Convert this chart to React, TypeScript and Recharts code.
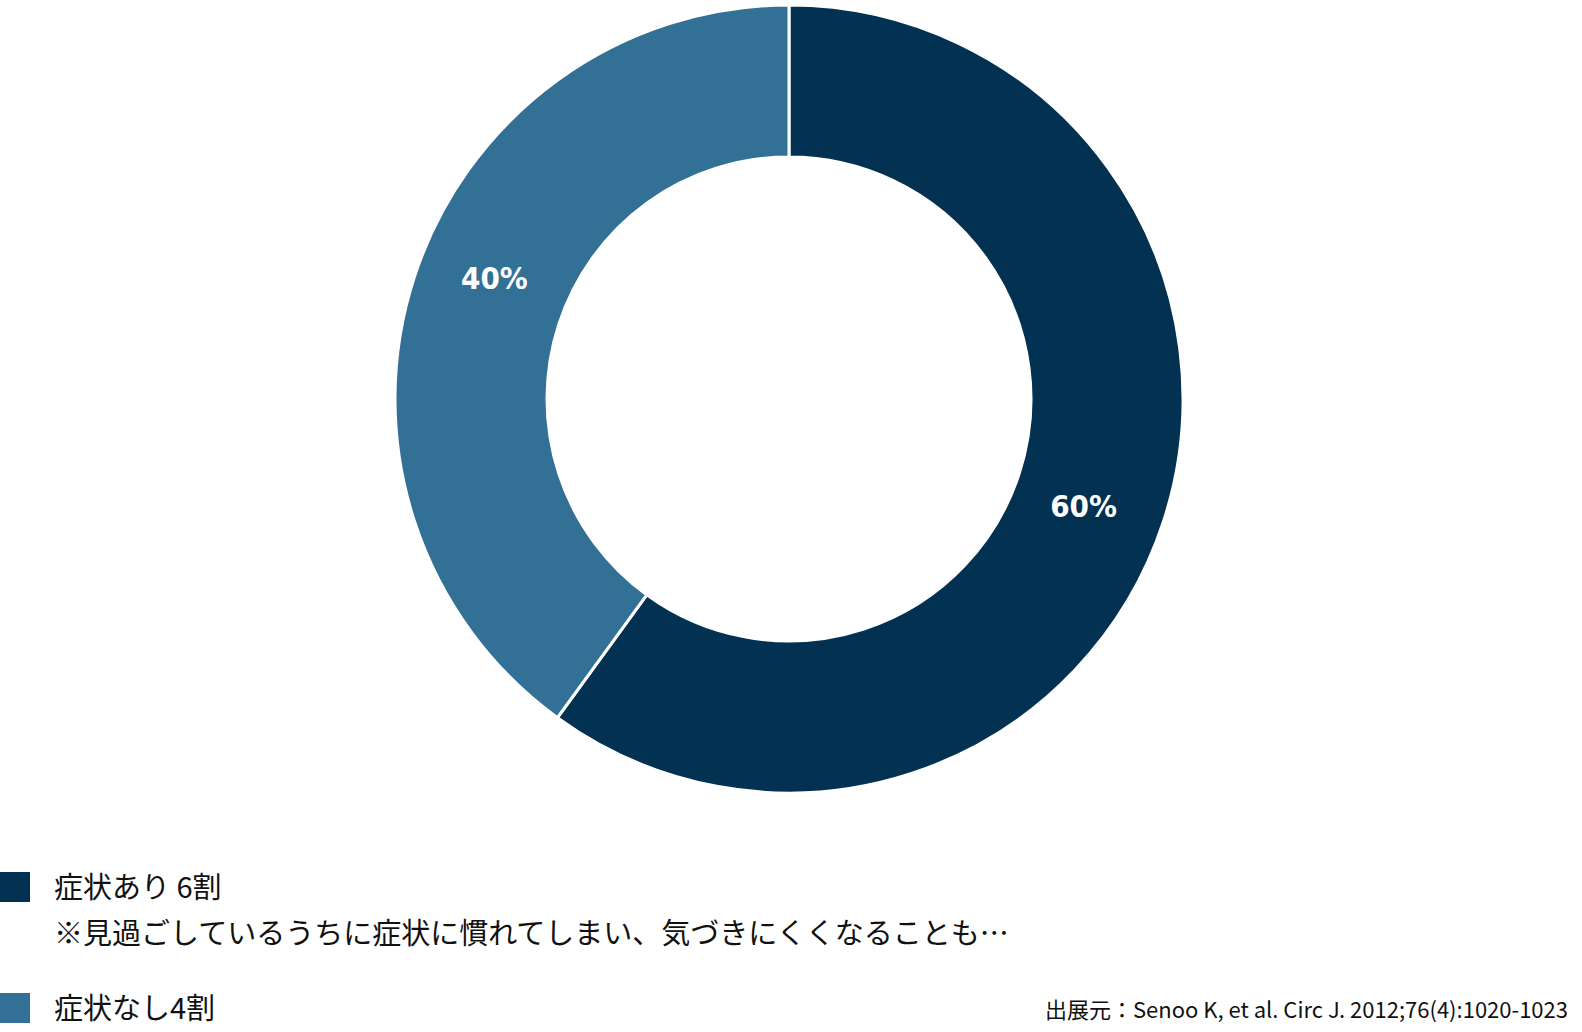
import React from "react";
import { PieChart, Pie, Cell } from "recharts";

const categories = ["症状あり", "症状なし"];
const shares = [60, 40];
const legendLabels = ["症状あり 6割", "症状なし4割"];
const legendNote = "※見過ごしているうちに症状に慣れてしまい、気づきにくくなることも…";
const sourceText = "出展元：Senoo K, et al. Circ J. 2012;76(4):1020-1023";
const colors = ["#033152", "#337096"];

const data = categories.map((name, i) => ({ name, value: shares[i] }));

const RAD = Math.PI / 180;

function renderLabel(props: any) {
  const { cx, cy, midAngle, innerRadius, outerRadius, value } = props;
  const r = (innerRadius + outerRadius) / 2 - 2;
  const a = midAngle - 3.2;
  const x = cx + r * Math.cos(-a * RAD);
  const y = cy + r * Math.sin(-a * RAD) - 7;
  return (
    <text
      x={x}
      y={y}
      fill="#fff"
      textAnchor="middle"
      dominantBaseline="central"
      style={{ fontFamily: "'DejaVu Sans Condensed', 'DejaVu Sans', sans-serif", fontWeight: 700, fontSize: 31 }}
    >
      {value}%
    </text>
  );
}

const jp = "'Noto Sans CJK JP', 'Noto Sans', sans-serif";

export default function App(): JSX.Element {
  return (
    <div style={{ position: "relative", width: 1582, height: 1032, background: "#fff" }}>
      <style>{`body{margin:0;}`}</style>
      <div style={{ position: "absolute", left: 0, top: 0 }}>
        <PieChart width={1582} height={800}>
          <Pie
            data={data}
            dataKey="value"
            cx={784}
            cy={394}
            innerRadius={242}
            outerRadius={394}
            startAngle={90}
            endAngle={-270}
            stroke="#fff"
            strokeWidth={3}
            label={renderLabel}
            labelLine={false}
            isAnimationActive={false}
          >
            {data.map((d, i) => (
              <Cell key={d.name} fill={colors[i]} />
            ))}
          </Pie>
        </PieChart>
      </div>
      <div style={{ position: "absolute", left: 0, top: 872, width: 30, height: 30, background: colors[0] }} />
      <div style={{ position: "absolute", left: 54, top: 862, fontFamily: jp, fontSize: 29, lineHeight: "46px", color: "#111" }}>
        <div>{legendLabels[0]}</div>
        <div>{legendNote}</div>
      </div>
      <div style={{ position: "absolute", left: 0, top: 993, width: 30, height: 30, background: colors[1] }} />
      <div style={{ position: "absolute", left: 54, top: 983, fontFamily: jp, fontSize: 29, lineHeight: "46px", color: "#111" }}>
        {legendLabels[1]}
      </div>
      <div style={{ position: "absolute", right: 14, top: 993, fontFamily: jp, fontSize: 22, lineHeight: "30px", color: "#111", whiteSpace: "nowrap" }}>
        {sourceText}
      </div>
    </div>
  );
}
